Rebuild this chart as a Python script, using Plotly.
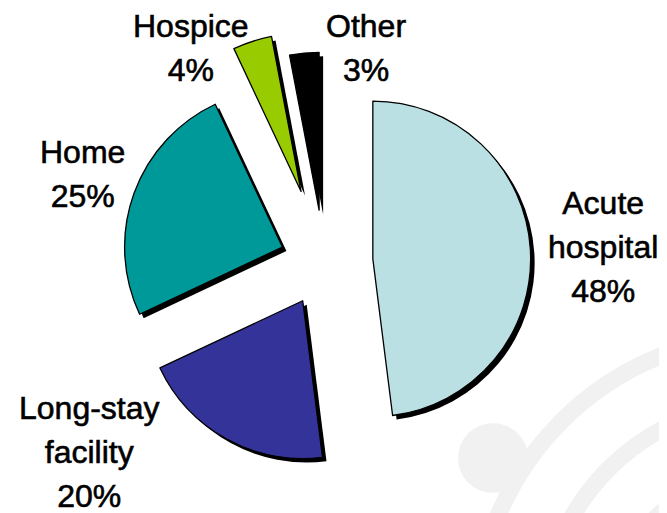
import plotly.graph_objects as go

# ---- data ----
categories = ["Acute<br>hospital", "Long-stay<br>facility", "Home", "Hospice", "Other"]
values = [48, 20, 25, 4, 3]
colors = ["#BAE0E3", "#333399", "#009999", "#99CC00", "#000000"]
pulls = [0.31, 0.28, 0.28, 0.47, 0.33]

# label placement (pixels, centre of each text block)
label_pos = [(595, 239), (81, 444), (74, 166), (183, 40), (358, 40)]

W, H = 667, 513

def px_domain(x0, x1, y0, y1):
    return dict(x=[x0 / W, x1 / W], y=[1 - y1 / H, 1 - y0 / H])

# pie box (pixels)
bx0, bx1, by0, by1 = 84, 548, 22, 486
sh = 4  # shadow offset

fig = go.Figure()

# shadow
fig.add_trace(go.Pie(
    labels=categories, values=values, pull=pulls, sort=False,
    direction="clockwise", rotation=0, automargin=False,
    marker=dict(colors=["#000000"] * len(values), line=dict(width=0)),
    textinfo="none", hoverinfo="skip", showlegend=False,
    domain=px_domain(bx0 + sh, bx1 + sh, by0 + sh, by1 + sh),
))

# main pie
fig.add_trace(go.Pie(
    labels=categories, values=values, pull=pulls, sort=False,
    direction="clockwise", rotation=0, automargin=False,
    marker=dict(colors=colors, line=dict(width=1.3, color="#000000")),
    textinfo="none", showlegend=False,
    hovertemplate="%{label}: %{value}%<extra></extra>",
    domain=px_domain(bx0, bx1, by0, by1),
))

annotations = []
for lab, val, (lx, ly) in zip(categories, values, label_pos):
    annotations.append(dict(
        xref="paper", yref="paper", x=lx / W, y=1 - ly / H,
        xanchor="center", yanchor="middle", showarrow=False, align="center",
        text=(f"<span style='font-size:32px;stroke:#000000;stroke-width:0.6px'>"
              f"{lab}<br>{val}%</span>"),
        font=dict(family="Liberation Sans, Arial, sans-serif", size=34, color="#000000"),
    ))

# faint watermark in the background
wm = "#F1F1F1"
shapes = []
def circ(cx, cy, r, **kw):
    return dict(type="circle", xref="paper", yref="paper", layer="below",
                x0=(cx - r) / W, x1=(cx + r) / W, y0=1 - (cy + r) / H, y1=1 - (cy - r) / H, **kw)
shapes.append(circ(485, 450, 35, fillcolor=wm, line=dict(width=0)))
for r in [295, 228, 160]:
    shapes.append(circ(762, 622, r, line=dict(color=wm, width=17)))

fig.update_layout(
    width=W, height=H,
    margin=dict(l=0, r=0, t=0, b=0, pad=0, autoexpand=False),
    paper_bgcolor="white", plot_bgcolor="white",
    shapes=shapes, annotations=annotations,
)

fig.write_html("out.html")
